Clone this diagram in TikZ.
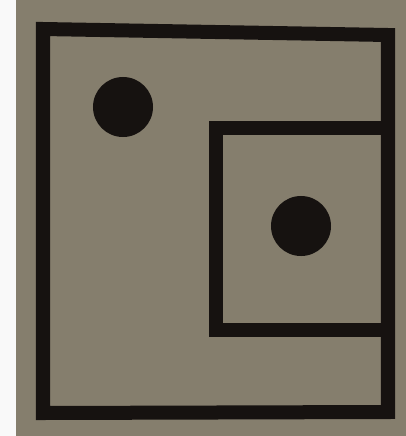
\documentclass[tikz,border=0pt]{standalone}
\usepackage{xcolor}

\definecolor{paper}{RGB}{133,126,109}
\definecolor{ink}{RGB}{22,18,16}

\begin{document}
\begin{tikzpicture}[x=0.025cm, y=-0.025cm]
    \tikzset{wall/.style={draw=ink, line width=0.35cm, line join=miter}}
    \tikzset{dot/.style={circle, fill=ink, inner sep=0pt, minimum size=1.5cm}}
    % page
    \fill[white!95!gray] (0,0) rectangle (406,436);
    \fill[paper] (16,0) rectangle (406,436);
    \useasboundingbox (0,0) rectangle (406,436);
    % outer and inner box
    \draw[wall] (43,29) -- (388,35) -- (388,412) -- (43,413) -- cycle;
    \draw[wall] (388,128) -- (216,128) -- (216,330) -- (388,330);
    % dots
    \node[dot] (outer) at (123,107) {};
    \node[dot] (inner) at (301,226) {};
\end{tikzpicture}
\end{document}
